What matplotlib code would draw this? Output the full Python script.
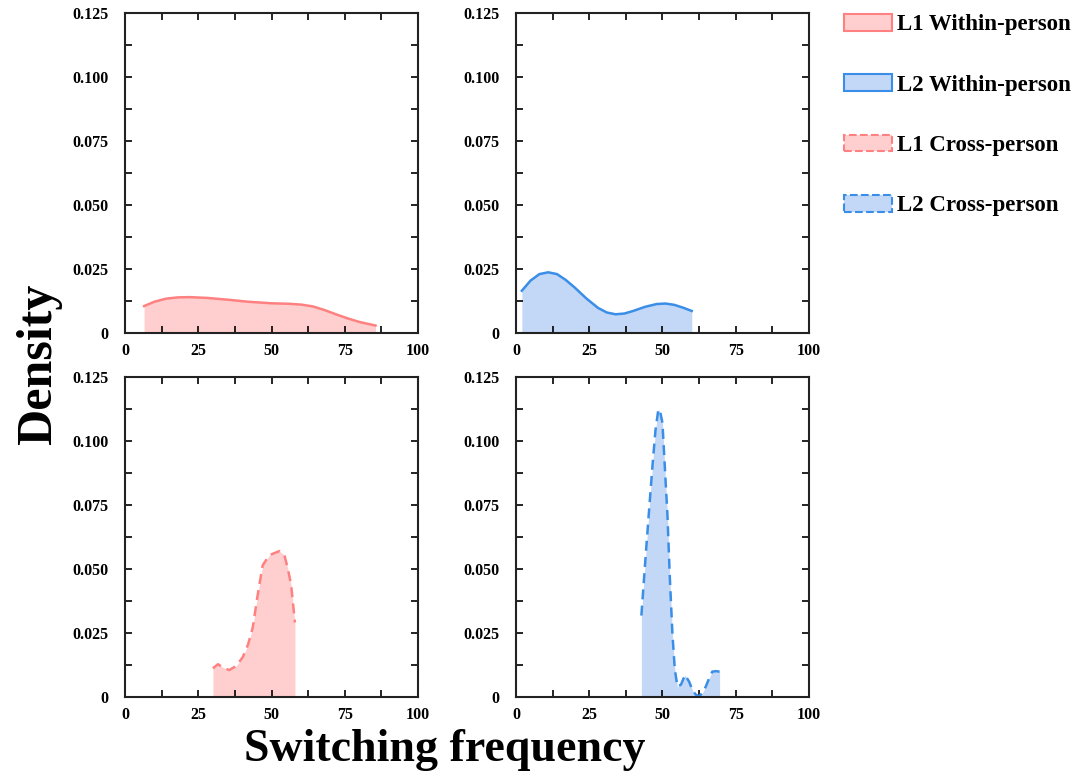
import numpy as np
import matplotlib
matplotlib.use("Agg")
import matplotlib.pyplot as plt
from matplotlib.patches import Patch

plt.rcParams['font.family'] = ['Liberation Serif', 'DejaVu Serif']
plt.rcParams['font.weight'] = 'bold'

# density curves
l1_within_x = [6.5, 10, 14, 18, 22, 28, 35, 42, 50, 56, 60, 64, 68, 72, 76, 80, 85.5]
l1_within_y = [0.0105, 0.0122, 0.0134, 0.0139, 0.0140, 0.0137, 0.0130, 0.0122, 0.0116, 0.0114, 0.0111, 0.0104, 0.0090, 0.0073, 0.0057, 0.0043, 0.0029]

l2_within_x = [2, 5, 8, 11, 14, 17, 20, 24, 28, 31, 34, 37, 40, 44, 48, 51, 54, 57, 60]
l2_within_y = [0.0165, 0.0205, 0.0230, 0.0237, 0.0230, 0.0207, 0.0178, 0.0135, 0.0098, 0.0080, 0.0073, 0.0076, 0.0086, 0.0102, 0.0113, 0.0115, 0.0110, 0.0099, 0.0086]

l1_cross_x = [30.0, 31.7, 33.5, 35.6, 38.0, 40.2, 42.0, 43.6, 45.3, 47.0, 49.3, 51.0, 52.7, 54.4, 55.6, 56.7, 58.0]
l1_cross_y = [0.0112, 0.0128, 0.0115, 0.0105, 0.0122, 0.0156, 0.0205, 0.0272, 0.0400, 0.0515, 0.0554, 0.0562, 0.0570, 0.0554, 0.0500, 0.0438, 0.0291]

l2_cross_x = [42.8, 44.3, 45.5, 46.6, 47.6, 48.6, 49.3, 50.0, 50.8, 51.7, 52.5, 53.4, 54.2, 55.1, 56.3, 57.7, 59.1, 60.3, 61.4, 62.5, 63.6, 64.8, 66.0, 67.0, 68.3, 69.5]
l2_cross_y = [0.0318, 0.0557, 0.0740, 0.0905, 0.1040, 0.1124, 0.1110, 0.1070, 0.0900, 0.0711, 0.0470, 0.0247, 0.0110, 0.0041, 0.0048, 0.0086, 0.0060, 0.0025, 0.0009, 0.0003, 0.0015, 0.0041, 0.0075, 0.0099, 0.0101, 0.0099]

labels = ['L1 Within-person', 'L2 Within-person', 'L1 Cross-person', 'L2 Cross-person']
x_ticks = [0, 25, 50, 75, 100]
y_ticks = [0, 0.025, 0.050, 0.075, 0.100, 0.125]
y_ticklabels = ['0', '0.025', '0.050', '0.075', '0.100', '0.125']

red_line, red_fill = '#FF8080', '#FFCFCF'
blue_line, blue_fill = '#3A8EE8', '#C2D8F6'

fig = plt.figure(figsize=(10.77, 7.76), dpi=100)

w, h = 0.272, 0.4124
positions = [(0.1161, 0.5709), (0.4791, 0.5709), (0.1161, 0.1018), (0.4791, 0.1018)]
series = [
    (l1_within_x, l1_within_y, red_line, red_fill, '-'),
    (l2_within_x, l2_within_y, blue_line, blue_fill, '-'),
    (l1_cross_x, l1_cross_y, red_line, red_fill, (0, (4, 2.5))),
    (l2_cross_x, l2_cross_y, blue_line, blue_fill, (0, (4, 2.5))),
]

for (px, py), (x, y, lc, fc, ls) in zip(positions, series):
    ax = fig.add_axes([px, py, w, h])
    ax.fill_between(x, y, 0, color=fc, linewidth=0)
    ax.plot(x, y, color=lc, linewidth=1.8, linestyle=ls)
    ax.set_xlim(0, 100)
    ax.set_ylim(0, 0.125)
    ax.set_xticks(x_ticks)
    ax.set_xticks(np.arange(12.5, 100, 25), minor=True)
    ax.set_yticks(y_ticks)
    ax.set_yticklabels(y_ticklabels)
    ax.set_yticks(np.arange(0.0125, 0.125, 0.025), minor=True)
    ax.tick_params(which='both', direction='in', top=True, right=True,
                   length=5, width=1.2, labelsize=11.5)
    ax.tick_params(axis='x', pad=7)
    ax.tick_params(axis='y', pad=12)
    for lab in ax.get_xticklabels() + ax.get_yticklabels():
        lab.set_fontweight('bold')
    for s in ax.spines.values():
        s.set_linewidth(1.5)
        s.set_color('#222222')

handles = [
    Patch(facecolor=red_fill, edgecolor=red_line, linewidth=1.5, linestyle='-'),
    Patch(facecolor=blue_fill, edgecolor=blue_line, linewidth=1.5, linestyle='-'),
    Patch(facecolor=red_fill, edgecolor=red_line, linewidth=1.5, linestyle='--'),
    Patch(facecolor=blue_fill, edgecolor=blue_line, linewidth=1.5, linestyle='--'),
]
fig.legend(handles, labels, loc='upper left', bbox_to_anchor=(0.784, 0.982),
           frameon=False, prop={'weight': 'bold', 'size': 16.5},
           borderpad=0, borderaxespad=0,
           handlelength=2.1, handleheight=0.75, labelspacing=1.7, handletextpad=0.2)

fig.text(0.036, 0.53, 'Density', rotation=90, ha='center', va='center',
         fontsize=36, fontweight='bold')
fig.text(0.413, 0.034, 'Switching frequency', ha='center', va='center',
         fontsize=33, fontweight='bold')

fig.savefig('out.png', dpi=100)
